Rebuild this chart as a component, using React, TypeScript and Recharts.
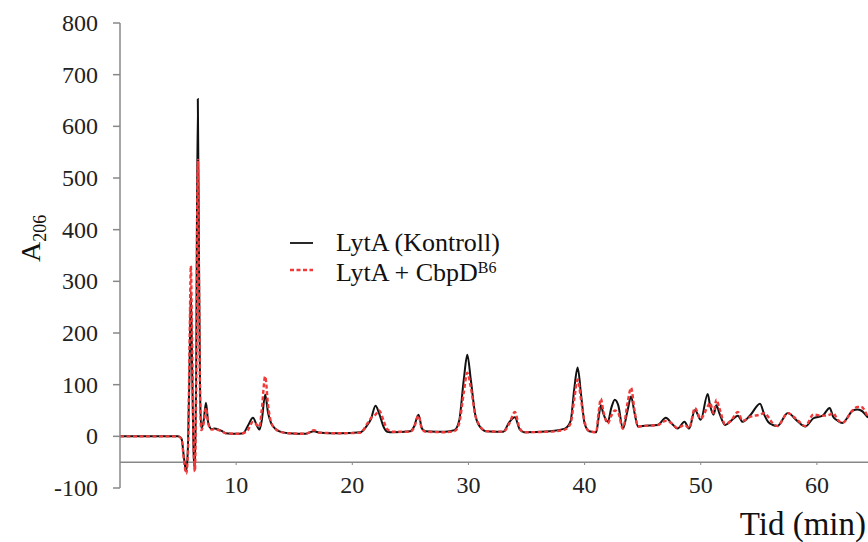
import React from "react"
import { LineChart, Line, XAxis, YAxis, ReferenceLine } from "recharts"

const times = [
  0, 5.0, 5.3, 5.5, 5.7, 5.85, 6.0, 6.1, 6.2, 6.35, 6.45, 6.55, 6.7, 6.8, 6.9, 7.0, 7.2, 7.4, 7.6, 7.9,
  8.1, 8.5, 8.8, 9.1, 10.0, 10.6, 11.0, 11.45, 11.8, 12.0, 12.2, 12.5, 12.75, 13.0, 13.4, 13.8, 14.5, 16.0, 16.7, 17.2,
  19.0, 20.7, 21.3, 21.6, 22.0, 22.3, 22.7, 23.0, 23.5, 25.0, 25.3, 25.7, 26.0, 26.3, 28.0, 28.8, 29.2, 29.6, 29.9, 30.2,
  30.6, 31.0, 31.5, 33.0, 33.5, 34.0, 34.4, 34.8, 37.0, 38.3, 38.8, 39.1, 39.4, 39.7, 40.0, 40.4, 41.0, 41.2, 41.4, 41.6,
  42.0, 42.3, 42.6, 42.9, 43.3, 43.7, 44.0, 44.3, 44.6, 45.0, 46.3, 47.0, 47.5, 48.0, 48.6, 49.0, 49.5, 50.0, 50.6, 50.8,
  51.1, 51.35, 51.6, 52.1, 52.6, 53.2, 53.6, 54.3, 55.1, 55.5, 55.8, 56.2, 56.6, 57.5, 58.3, 59.0, 59.7, 60.5, 61.1, 61.4,
  61.8, 62.2, 63.1, 63.5, 63.8, 64.4,
]

const kontroll = [
  0, 0, -5, -40, -68, -20, 150, 280, 150, -40, -65, 100, 653, 350, 80, 15, 30, 65, 26, 14,
  15, 13, 10, 6, 5, 6, 20, 36, 20, 13, 30, 81, 45, 26, 14, 9, 6, 5, 10, 7,
  6, 8, 22, 33, 59, 45, 18, 9, 8, 10, 18, 42, 15, 10, 9, 12, 30, 110, 158, 110,
  40, 18, 10, 9, 27, 37, 14, 8, 10, 15, 30, 90, 133, 80, 25, 10, 8, 35, 60, 45,
  28, 55, 71, 60, 15, 50, 77, 45, 19, 20, 22, 36, 25, 15, 28, 15, 51, 32, 82, 60,
  42, 60, 45, 22, 30, 40, 28, 42, 63, 40, 28, 22, 20, 45, 30, 19, 35, 40, 55, 38,
  30, 26, 50, 52, 50, 36,
]

const cbpd = [
  0, 0, -5, -45, -72, -30, 200, 330, 200, -30, -68, 80, 535, 300, 70, 12, 25, 55, 24, 13,
  14, 12, 9, 6, 5, 6, 12, 28, 22, 18, 50, 116, 60, 28, 14, 9, 6, 5, 12, 7,
  6, 7, 25, 35, 42, 50, 30, 14, 9, 9, 16, 40, 14, 9, 8, 10, 25, 85, 123, 95,
  40, 20, 10, 9, 24, 47, 16, 8, 9, 13, 25, 70, 110, 70, 28, 10, 8, 45, 73, 50,
  25, 40, 50, 45, 15, 65, 94, 50, 19, 20, 22, 30, 25, 16, 22, 16, 55, 34, 58, 65,
  45, 71, 55, 24, 30, 47, 30, 38, 42, 45, 38, 25, 20, 45, 32, 20, 42, 40, 42, 45,
  32, 26, 51, 57, 57, 36,
]

const yTicks = [-100, 0, 100, 200, 300, 400, 500, 600, 700, 800]
const xTicks = [10, 20, 30, 40, 50, 60]

const data = times.map((t, i) => ({ t, kontroll: kontroll[i], cbpd: cbpd[i] }))

const serif = "'Liberation Serif', 'Times New Roman', serif"

const XTick = (props: any) => {
  const { x, y, payload } = props
  return (
    <g>
      <line x1={x} x2={x} y1={y - 26} y2={y - 23} stroke="#888" strokeWidth={1} />
      <text x={x} y={y + 5} textAnchor="middle" fontFamily={serif} fontSize={24} fill="#222">
        {payload.value}
      </text>
    </g>
  )
}

const YTick = (props: any) => {
  const { x, y, payload } = props
  return (
    <text x={x} y={y + 8} textAnchor="end" fontFamily={serif} fontSize={24} fill="#222">
      {payload.value}
    </text>
  )
}

export default function App() {
  return (
    <div style={{ position: "absolute", left: 0, top: 0, width: 868, height: 542, background: "#fff" }}>
      <LineChart width={868} height={542} data={data} margin={{ top: 23, right: 0, bottom: 0, left: 0 }}>
        <XAxis
          dataKey="t"
          type="number"
          domain={[0, 64.4]}
          ticks={xTicks}
          axisLine={false}
          tickLine={false}
          tickSize={0}
          tickMargin={0}
          height={54}
          tick={<XTick />}
          allowDataOverflow
        />
        <YAxis
          type="number"
          domain={[-100, 800]}
          ticks={yTicks}
          width={120}
          tickSize={7}
          tickMargin={15}
          axisLine={{ stroke: "#888", strokeWidth: 1.5 }}
          tickLine={{ stroke: "#888", strokeWidth: 1.5 }}
          tick={<YTick />}
        />
        <ReferenceLine y={-50} stroke="#888" strokeWidth={1.5} />
        <Line
          type="monotone"
          dataKey="kontroll"
          stroke="#111"
          strokeWidth={2}
          dot={false}
          isAnimationActive={false}
        />
        <Line
          type="monotone"
          dataKey="cbpd"
          stroke="#f03a3a"
          strokeWidth={2.4}
          strokeDasharray="4 2.5"
          dot={false}
          isAnimationActive={false}
        />
      </LineChart>
      <svg
        width={868}
        height={542}
        style={{ position: "absolute", left: 0, top: 0, pointerEvents: "none" }}
      >
        <text transform="translate(40, 262) rotate(-90)" fontFamily={serif} fontSize={28} fill="#111">
          A
          <tspan dy={6} fontSize={18}>206</tspan>
        </text>
        <text x={866} y={535} textAnchor="end" fontFamily={serif} fontSize={33} fill="#111">
          Tid (min)
        </text>
        <line x1={290} x2={313} y1={243} y2={243} stroke="#111" strokeWidth={1.8} />
        <text x={336} y={251} fontFamily={serif} fontSize={26} fill="#111">
          LytA (Kontroll)
        </text>
        <line x1={290} x2={313} y1={270} y2={270} stroke="#f03a3a" strokeWidth={2.4} strokeDasharray="4 2.5" />
        <text x={336} y={281} fontFamily={serif} fontSize={26} fill="#111">
          LytA + CbpD
          <tspan dy={-8} fontSize={16}>B6</tspan>
        </text>
      </svg>
    </div>
  )
}
